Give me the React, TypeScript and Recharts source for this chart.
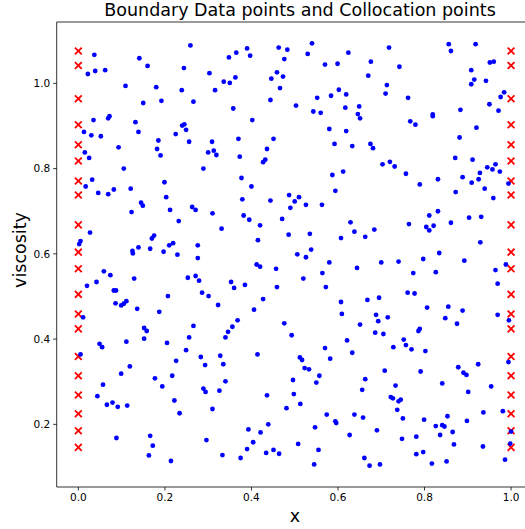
import React from 'react';
import { ScatterChart, Scatter, XAxis, YAxis, ReferenceLine } from 'recharts';

// Boundary data points: x = 0 and x = 1, at these viscosity values
const boundaryX = [0, 1];
const boundaryY = [
  1.076, 1.042, 0.964, 0.903, 0.856, 0.818, 0.771, 0.738, 0.668, 0.604,
  0.565, 0.505, 0.459, 0.424, 0.359, 0.314, 0.269, 0.225, 0.185, 0.146,
];

// Collocation points [x, viscosity]
const collocationTop: [number, number][] = [
  [0.037, 1.067], [0.141, 1.059], [0.259, 1.089], [0.160, 1.041], [0.022, 1.022], [0.039, 1.029],
  [0.062, 1.031], [0.244, 1.036], [0.303, 1.024], [0.109, 0.994], [0.180, 0.991], [0.239, 0.984],
  [0.150, 0.954], [0.192, 0.959], [0.266, 0.957], [0.035, 0.914], [0.069, 0.918], [0.072, 0.923],
  [0.132, 0.909], [0.240, 0.901], [0.245, 0.904], [0.249, 0.891], [0.013, 0.886], [0.030, 0.878],
  [0.052, 0.876], [0.139, 0.886], [0.225, 0.881],
  [0.316, 0.984], [0.348, 1.061], [0.365, 1.072], [0.390, 1.082], [0.397, 1.065], [0.463, 1.084],
  [0.483, 1.079], [0.540, 1.094], [0.530, 1.069], [0.624, 1.072], [0.476, 1.057], [0.570, 1.044],
  [0.599, 1.046], [0.459, 1.026], [0.446, 1.011], [0.473, 1.016], [0.336, 1.004], [0.350, 1.001],
  [0.363, 1.014], [0.466, 0.989], [0.444, 0.961], [0.358, 0.941], [0.503, 0.948], [0.552, 0.966],
  [0.584, 0.971], [0.602, 0.985], [0.619, 0.974], [0.543, 0.934], [0.560, 0.931], [0.617, 0.943],
  [0.649, 0.946], [0.646, 0.928], [0.651, 0.918], [0.402, 0.914], [0.580, 0.893], [0.619, 0.888],
  [0.718, 1.084], [0.676, 1.051], [0.742, 1.039], [0.670, 1.018], [0.713, 0.996], [0.710, 0.976],
  [0.762, 0.966], [0.856, 1.092], [0.861, 1.076], [0.918, 1.092], [0.951, 1.049], [0.960, 1.051],
  [0.908, 1.031], [0.915, 1.009], [0.908, 0.998], [0.942, 1.006], [0.984, 0.979], [0.976, 0.968],
  [0.950, 0.951], [0.971, 0.936], [0.883, 0.938], [0.819, 0.927], [0.819, 0.923], [0.767, 0.911],
  [0.779, 0.903], [0.920, 0.896],
];

const collocationUpperMid: [number, number][] = [
  [0.185, 0.866], [0.256, 0.863], [0.309, 0.863], [0.093, 0.850], [0.182, 0.846], [0.190, 0.831],
  [0.015, 0.838], [0.025, 0.825], [0.300, 0.838], [0.105, 0.800], [0.289, 0.800], [0.032, 0.774],
  [0.017, 0.758], [0.046, 0.743], [0.069, 0.740], [0.082, 0.751], [0.121, 0.753], [0.199, 0.768],
  [0.203, 0.733], [0.145, 0.720], [0.149, 0.713], [0.123, 0.698], [0.212, 0.703], [0.263, 0.710],
  [0.271, 0.703], [0.310, 0.695], [0.232, 0.677], [0.027, 0.650], [0.175, 0.643], [0.170, 0.636],
  [0.005, 0.630], [0.002, 0.623], [0.139, 0.615], [0.166, 0.612], [0.210, 0.620], [0.219, 0.625],
  [0.276, 0.620], [0.125, 0.607], [0.197, 0.605],
  [0.370, 0.870], [0.451, 0.870], [0.313, 0.842], [0.319, 0.832], [0.373, 0.828], [0.436, 0.846],
  [0.427, 0.815], [0.432, 0.821], [0.592, 0.858], [0.633, 0.853], [0.377, 0.778], [0.400, 0.758],
  [0.379, 0.728], [0.444, 0.725], [0.487, 0.738], [0.510, 0.733], [0.500, 0.723], [0.526, 0.715],
  [0.490, 0.708], [0.563, 0.715], [0.587, 0.785], [0.612, 0.793], [0.594, 0.748], [0.382, 0.690],
  [0.395, 0.680], [0.420, 0.667], [0.331, 0.659], [0.471, 0.682], [0.486, 0.645], [0.535, 0.647],
  [0.415, 0.632], [0.629, 0.674], [0.638, 0.652], [0.663, 0.640], [0.607, 0.637], [0.538, 0.610],
  [0.881, 0.873], [0.675, 0.858], [0.681, 0.848], [0.703, 0.810], [0.720, 0.816], [0.731, 0.805],
  [0.757, 0.788], [0.789, 0.763], [0.831, 0.775], [0.871, 0.825], [0.911, 0.821], [0.888, 0.780],
  [0.909, 0.767], [0.925, 0.775], [0.928, 0.790], [0.945, 0.803], [0.957, 0.798], [0.964, 0.810],
  [0.974, 0.793], [0.994, 0.765], [0.939, 0.753], [0.959, 0.731], [0.872, 0.745], [0.811, 0.690],
  [0.831, 0.700], [0.764, 0.670], [0.804, 0.663], [0.811, 0.655], [0.821, 0.666], [0.861, 0.673],
  [0.903, 0.685], [0.931, 0.687], [0.684, 0.657], [0.929, 0.627],
];

const collocationLowerMid: [number, number][] = [
  [0.126, 0.601], [0.229, 0.598], [0.276, 0.590], [0.059, 0.559], [0.074, 0.550], [0.129, 0.542],
  [0.020, 0.525], [0.042, 0.534], [0.253, 0.544], [0.271, 0.548], [0.279, 0.537], [0.082, 0.514],
  [0.087, 0.514], [0.286, 0.509], [0.301, 0.501], [0.207, 0.501], [0.086, 0.484], [0.099, 0.479],
  [0.105, 0.483], [0.111, 0.489], [0.136, 0.471], [0.187, 0.464], [0.011, 0.451], [0.152, 0.426],
  [0.158, 0.419], [0.266, 0.431], [0.256, 0.404], [0.152, 0.401], [0.111, 0.394], [0.205, 0.391],
  [0.049, 0.389], [0.055, 0.381], [0.249, 0.374], [0.005, 0.364], [0.283, 0.358], [0.226, 0.349],
  [0.293, 0.339], [0.119, 0.336],
  [0.506, 0.599], [0.526, 0.592], [0.412, 0.575], [0.420, 0.570], [0.457, 0.565], [0.580, 0.580],
  [0.644, 0.567], [0.564, 0.555], [0.520, 0.542], [0.353, 0.534], [0.360, 0.520], [0.385, 0.527],
  [0.459, 0.522], [0.572, 0.522], [0.323, 0.480], [0.427, 0.494], [0.406, 0.469], [0.607, 0.487],
  [0.668, 0.492], [0.609, 0.459], [0.651, 0.434], [0.368, 0.444], [0.356, 0.429], [0.346, 0.417],
  [0.340, 0.404], [0.476, 0.437], [0.493, 0.409], [0.621, 0.397], [0.570, 0.379], [0.633, 0.368],
  [0.328, 0.361], [0.414, 0.364], [0.512, 0.357], [0.517, 0.351], [0.582, 0.354], [0.335, 0.341],
  [0.834, 0.602], [0.700, 0.580], [0.740, 0.582], [0.797, 0.588], [0.892, 0.584], [0.774, 0.555],
  [0.826, 0.557], [0.964, 0.562], [0.988, 0.575], [0.969, 0.530], [0.695, 0.497], [0.761, 0.509],
  [0.777, 0.507], [0.806, 0.474], [0.855, 0.476], [0.888, 0.467], [0.688, 0.457], [0.693, 0.442],
  [0.715, 0.451], [0.848, 0.449], [0.875, 0.436], [0.969, 0.457], [0.995, 0.444], [0.786, 0.419],
  [0.789, 0.424], [0.686, 0.415], [0.705, 0.412], [0.752, 0.399], [0.757, 0.386], [0.770, 0.376],
  [0.728, 0.381], [0.802, 0.372], [0.994, 0.346], [0.924, 0.341], [0.878, 0.334],
];

const collocationBottom: [number, number][] = [
  [0.099, 0.319], [0.057, 0.293], [0.177, 0.308], [0.217, 0.314], [0.194, 0.289], [0.044, 0.266],
  [0.289, 0.284], [0.294, 0.276], [0.222, 0.256], [0.066, 0.246], [0.079, 0.251], [0.091, 0.241],
  [0.113, 0.244], [0.234, 0.226], [0.310, 0.236], [0.088, 0.168], [0.166, 0.173], [0.172, 0.150],
  [0.163, 0.127], [0.214, 0.114], [0.296, 0.163],
  [0.523, 0.332], [0.533, 0.329], [0.340, 0.301], [0.326, 0.279], [0.436, 0.268], [0.496, 0.304],
  [0.498, 0.271], [0.513, 0.248], [0.481, 0.238], [0.550, 0.298], [0.557, 0.314], [0.663, 0.306],
  [0.656, 0.281], [0.574, 0.223], [0.594, 0.207], [0.596, 0.203], [0.638, 0.223], [0.658, 0.216],
  [0.627, 0.175], [0.547, 0.193], [0.439, 0.200], [0.393, 0.188], [0.421, 0.181], [0.404, 0.158],
  [0.390, 0.142], [0.434, 0.133], [0.451, 0.140], [0.464, 0.131], [0.508, 0.154], [0.555, 0.140],
  [0.545, 0.106], [0.333, 0.128], [0.375, 0.121], [0.661, 0.121],
  [0.708, 0.326], [0.791, 0.324], [0.890, 0.321], [0.897, 0.316], [0.733, 0.291], [0.841, 0.296],
  [0.901, 0.276], [0.954, 0.289], [0.722, 0.264], [0.727, 0.261], [0.740, 0.254], [0.745, 0.258],
  [0.737, 0.234], [0.750, 0.214], [0.799, 0.211], [0.853, 0.219], [0.898, 0.208], [0.936, 0.228],
  [0.981, 0.231], [0.826, 0.196], [0.841, 0.198], [0.846, 0.195], [0.836, 0.175], [0.865, 0.182],
  [0.690, 0.186], [0.748, 0.166], [0.781, 0.171], [1.000, 0.183], [0.998, 0.155], [0.868, 0.153],
  [0.935, 0.148], [0.781, 0.130], [0.797, 0.135], [0.673, 0.103], [0.697, 0.106], [0.817, 0.108],
  [0.851, 0.113], [0.986, 0.117],
];

const xTicks = [0.0, 0.2, 0.4, 0.6, 0.8, 1.0];
const yTicks = [0.2, 0.4, 0.6, 0.8, 1.0];
const xDomain: [number, number] = [-0.05, 1.05];
const yDomain: [number, number] = [0.053, 1.144];

const titleText = 'Boundary Data points and Collocation points';
const xLabel = 'x';
const yLabel = 'viscosity';

const boundaryData = boundaryX.flatMap((x) => boundaryY.map((y) => ({ x, y })));
const collocationData = [
  ...collocationTop,
  ...collocationUpperMid,
  ...collocationLowerMid,
  ...collocationBottom,
].map(([x, y]) => ({ x, y }));

const FONT = '"DejaVu Sans", sans-serif';

const CrossShape = (props: any) => {
  const { cx, cy } = props;
  if (cx == null || cy == null) return <g />;
  const s = 3.4;
  return (
    <g stroke="#ff0000" strokeWidth={1.8} strokeLinecap="butt">
      <line x1={cx - s} y1={cy - s} x2={cx + s} y2={cy + s} />
      <line x1={cx - s} y1={cy + s} x2={cx + s} y2={cy - s} />
    </g>
  );
};

const DotShape = (props: any) => {
  const { cx, cy } = props;
  if (cx == null || cy == null) return <g />;
  return <circle cx={cx} cy={cy} r={2.4} fill="#0000ff" />;
};

const tickStyle = { fill: '#000', fontSize: 10.5, fontFamily: FONT };

export default function App() {
  return (
    <div
      style={{
        position: 'absolute',
        left: 0,
        top: 0,
        width: 525,
        height: 529,
        overflow: 'hidden',
        background: '#fff',
      }}
    >
      <ScatterChart
        width={540}
        height={529}
        margin={{ top: 22, right: 7.3, bottom: 12, left: 0 }}
      >
        <XAxis
          type="number"
          dataKey="x"
          domain={xDomain}
          allowDataOverflow
          ticks={xTicks}
          interval={0}
          tickFormatter={(v: number) => v.toFixed(1)}
          height={30}
          stroke="#000"
          strokeWidth={0.8}
          tickSize={3.5}
          tickMargin={3}
          tick={tickStyle}
        />
        <YAxis
          type="number"
          dataKey="y"
          domain={yDomain}
          allowDataOverflow
          ticks={yTicks}
          interval={0}
          tickFormatter={(v: number) => v.toFixed(1)}
          width={56.7}
          stroke="#000"
          strokeWidth={0.8}
          tickSize={3.5}
          tickMargin={3}
          tick={tickStyle}
        />
        <ReferenceLine y={yDomain[1]} stroke="#000" strokeWidth={0.8} />
        <Scatter data={boundaryData} shape={CrossShape} isAnimationActive={false} />
        <Scatter data={collocationData} shape={DotShape} isAnimationActive={false} />
      </ScatterChart>
      <svg
        width={525}
        height={529}
        style={{ position: 'absolute', left: 0, top: 0, pointerEvents: 'none' }}
      >
        <text x={300} y={16} textAnchor="middle" fontFamily={FONT} fontSize={17.5} fill="#000">
          {titleText}
        </text>
        <text x={295} y={522} textAnchor="middle" fontFamily={FONT} fontSize={17.5} fill="#000">
          {xLabel}
        </text>
        <text
          transform="translate(26, 250) rotate(-90)"
          textAnchor="middle"
          fontFamily={FONT}
          fontSize={17.5}
          fill="#000"
        >
          {yLabel}
        </text>
      </svg>
    </div>
  );
}
